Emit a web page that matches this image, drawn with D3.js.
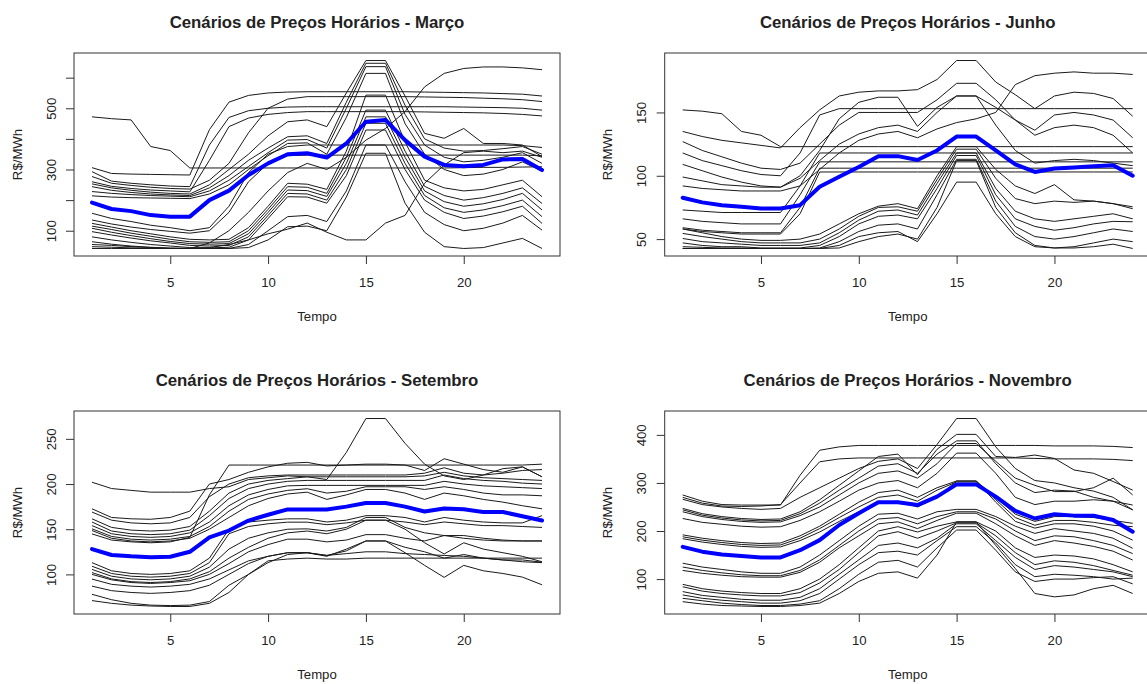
<!DOCTYPE html>
<html>
<head>
<meta charset="utf-8">
<script src="https://cdn.jsdelivr.net/npm/d3@7/dist/d3.min.js"></script>
<style>
  html, body { margin: 0; padding: 0; background: #fff; }
  svg { display: block; }
  text { font-family: "Liberation Sans", Arial, Helvetica, sans-serif; fill: #222; }
</style>
</head>
<body>
<svg id="chart" width="1147" height="684"></svg>
<script>
// Hours of the day
const horas = d3.range(1, 25);
const xTicks = [5, 10, 15, 20];

// ---- Março: price scenarios (R$/MWh) and their mean ----
const marcoCenarios = [
  [472,466,462,375,362,305,305,305,305,305,305,305,305,305,305,305,305,305,305,306,307,307,308,309],
  [306,287,285,284,283,282,430,520,542,550,553,554,554,554,554,554,554,553,552,551,550,548,546,540],
  [293,262,255,250,246,244,380,470,492,500,504,505,505,505,505,505,505,505,505,504,503,502,500,494],
  [277,255,248,242,238,236,265,320,420,500,530,538,538,538,538,538,538,537,536,535,533,531,528,522],
  [260,245,238,233,230,227,330,440,468,480,486,489,489,489,489,489,489,488,487,486,485,483,480,475],
  [253,240,232,226,222,220,250,300,350,410,456,462,440,550,656,656,540,418,402,434,385,385,380,342],
  [244,232,225,220,217,215,240,280,330,370,407,410,385,520,647,647,510,400,370,360,362,368,375,350],
  [228,222,218,215,213,211,230,265,310,355,396,398,370,500,636,636,480,380,340,325,330,340,355,320],
  [214,210,208,207,206,205,220,250,300,345,385,387,350,470,614,614,450,350,300,280,285,300,325,295],
  [157,140,130,118,110,100,110,180,290,350,375,380,380,380,380,380,380,380,380,380,380,380,378,372],
  [135,122,112,104,98,92,100,160,260,320,345,347,347,347,347,347,347,347,347,347,347,347,347,345],
  [124,112,100,90,80,72,70,72,110,180,255,252,235,360,543,543,390,265,240,230,235,250,265,211],
  [115,104,92,82,72,64,62,64,100,170,244,242,222,340,494,494,360,245,215,200,208,222,240,189],
  [108,95,84,74,65,58,56,58,90,160,233,231,212,320,472,472,340,230,195,180,188,202,222,168],
  [97,86,76,67,60,52,50,52,80,150,222,220,200,300,451,451,320,215,175,160,168,182,200,146],
  [80,70,62,55,50,45,44,46,70,140,211,210,190,280,429,429,300,200,160,140,148,162,180,124],
  [64,56,50,46,43,42,42,42,55,100,146,150,130,230,380,380,260,160,120,100,108,125,150,102],
  [42,42,42,42,42,42,42,42,45,70,113,115,100,210,353,353,190,95,48,42,45,60,75,42],
  [55,52,48,45,43,42,45,55,70,90,105,125,95,70,70,125,150,255,315,355,360,355,360,340],
  [48,46,44,43,42,42,60,100,160,230,290,320,300,340,396,434,489,570,614,630,635,635,632,626]
];
const marcoMedia = [192,171,164,151,146,146,200,231,282,320,350,353,339,385,456,462,396,342,315,311,315,333,334,298];
const marcoYTicks = [100, 200, 300, 400, 500, 600];
const marcoYLabels = ["100", "", "300", "", "500", ""];

// ---- Junho ----
const junhoCenarios = [
  [152,151,149,135,132,123,123,123,123,123,123,123,123,123,123,123,123,123,123,123,123,123,123,123],
  [135,131,128,126,124,122,138,152,163,166,167,167,168,176,191,191,174,164,153,163,166,165,161,147],
  [127,120,115,110,106,105,110,125,140,150,150,150,150,160,173,173,160,144,136,148,150,148,144,130],
  [118,112,108,104,101,100,118,148,153,153,153,153,153,153,153,153,153,153,153,153,153,153,153,153],
  [109,104,99,95,92,91,100,120,145,158,162,162,139,154,163,163,154,144,132,138,140,138,132,118],
  [92,90,89,88,88,88,92,105,118,128,133,135,130,137,142,145,150,172,179,181,182,181,181,180],
  [73,72,71,71,71,71,92,118,118,118,118,118,118,118,118,118,118,118,118,118,118,118,118,118],
  [66,64,63,62,62,62,85,111,111,111,111,111,111,111,111,111,111,111,111,111,111,111,111,111],
  [59,57,56,55,55,55,75,106,106,106,106,106,106,106,106,106,106,106,106,106,106,106,106,106],
  [58,56,55,54,54,54,70,103,103,103,103,103,103,103,103,103,103,103,103,103,103,103,103,103],
  [58,55,52,50,49,49,50,54,62,70,76,78,74,100,123,123,105,92,86,93,81,80,78,75.5],
  [54.5,52,50,48,47,47,47,50,58,68,75,75.5,72,97,121,121,98,82,78,80,79,80,78,74],
  [50.5,48,47,46,45,45,45,47,55,65,72,73,69,94,118,118,90,72,66,64,66,68,70,66],
  [47,45,44,44,43,43,43,45,52,62,68,69,66,90,116,116,85,66,60,57,59,62,64,63.7],
  [44,43.5,43,43,42.6,42.6,42.6,43,48,56,61,62,58,85,113,113,80,60,52,50,52,55,58,56],
  [42.6,42.6,42.6,42.6,42.6,42.6,42.6,42.6,45,52,55,56,48,70,95,95,70,52,44,43,44,47,50,48],
  [42.6,42.6,42.6,42.6,42.6,42.6,42.6,42.6,43,48,52,54,50,75,112,112,75,55,45,43,43,44,46,42.6],
  [99,96,93,92,91,91,98,112,125,133,138,140,135,150,163,163,140,120,110,112,113,112,110,108]
];
const junhoMedia = [82.6,79,76.8,75.5,74.2,74.2,76.8,91.3,99.2,107,115.5,115.5,112.4,120,131,131,120,109,103,105.8,106.6,107.6,108.4,100];
const junhoYTicks = [50, 100, 150];
const junhoYLabels = ["50", "100", "150"];

// ---- Setembro ----
const setembroCenarios = [
  [202,195,193,191,191,191,195,197,205,207,209,208,205,235,272.5,272.5,245,222,209,205,210,217,219,208],
  [144.8,138,136,135,136,141,188,221,221,221,221,221,221,221,221,221,221,221,221,221,221,221,221,222],
  [172.6,163,161.5,161,163,170,200,205,213,219,223,224,220,221,222,222,221,215,228,222,216,213,219,208],
  [169,160,157,156,157,163,186,200,207,209,210,210,210,210,210,210,210,212,218,212,210,212,215,216],
  [161.5,152,149,148,149,153,170,190,200,204,206,208,208,208,208,208,208,209,213,209,207,206,205,204],
  [158,148,145,144,145,149,165,184,195,200,203,204,204,204,204,204,204,204,210,206,204,203,201,200],
  [154,145,142,141,142,146,158,176,188,194,198,198.5,198.5,198.5,198.5,198.5,198.5,198.5,203,200,198,197,196,195],
  [150.4,142,139,138,139,142,153,170,183,189,193,194.8,190,192,197,197,197,194,197,194,190,188,188,187],
  [148.5,140,137,136,137,140,150,163,176,184,189,191,183,188,194,194,190,183,190,187,183,180,176,172.6],
  [113,104,101,100,101,104,118,150,158,160,161.5,161.5,158,160,165,165,163,158,163,160,158,157,157,165],
  [109,101,98,97,98,101,113,145,153,156,157.8,157.8,155,157,160,160,158,155,158,156,154,154,153,152],
  [105.5,98,95,94,95,98,108,128,140,146,150,150.4,148,152,163,163,152,146,143,143,140,138,137,137],
  [102,95,92,91,92,95,103,118,130,140,146,148,145,150,160,160,150,135,122.6,135,128,124,120,114],
  [100,94,91,90,91,93,100,112,125,133,139,139,136,138,144,144,140,137,143,140,138,137,137,137],
  [94.8,89,87,86,87,89,95,105,115,120,124,124,121,126,137,137,124,110,96.7,110,104,101,97,88.5],
  [87,82,80,79,80,82,88,100,112,120,124,124,120,128,137,137,130,125,118,122,118,116,116,113.5],
  [78,72,68,66,65.5,66,70,88,100,113,122,124,121,123,125,125,123,122,121,120,118,116,114,113],
  [71,68,66,65,64.5,64.5,68,80,100,115,117,118,117,117,118,118,118,118,118,118,118,118,118,118]
];
const setembroMedia = [128,121.5,120,119,119.6,125,141,148.5,159.6,166,171.9,171.9,171.9,175,179,179,175,169.6,173,172,169,169,164.4,159.6];
const setembroYTicks = [100, 150, 200, 250];
const setembroYLabels = ["100", "150", "200", "250"];

// ---- Novembro ----
const novembroCenarios = [
  [275,262,255,254,254,254,316,368,375,378,378,378,378,378,378,378,378,378,378,377,377,377,376,373.6],
  [270,258,252,251,252,255,300,344,350,352,352,352,352,352,352,352,352,352,351,350,350,350,349,346.5],
  [266,255,250,247,245,247,270,290,310,330,345,350,330,380,434,434,375,330,305,300,290,283,270,244],
  [247,236,230,226,224,225,240,265,295,325,355,360,317,370,401,401,355,353,358,351,327,320,303,285],
  [244,233,227,223,221,222,236,258,285,310,335,340,320,360,387.5,387.5,340,300,280,285,283,270,262,254],
  [240,230,224,220,218,219,232,250,275,300,320,325,310,340,382,382,345,310,295,282,282,290,310,275],
  [226,218,214,210,208,209,222,240,262,285,300,305,290,320,362,362,320,270,255,262,262,265,262,244],
  [192,185,180,176,174,175,190,210,235,260,280,285,270,290,304,304,270,235,220,230,230,228,222,216],
  [188,181,176,172,170,171,185,205,228,250,270,275,262,285,302,302,265,228,212,222,222,218,212,209],
  [184,177,172,168,166,167,180,198,220,240,258,262,250,270,304,304,260,220,206,215,215,210,200,181],
  [133,125,120,115,112,112,125,150,180,210,235,237,225,240,245,245,230,210,195,205,200,195,185,164],
  [125,118,113,109,107,107,118,140,170,200,225,228,215,230,240,240,225,200,180,190,188,180,170,153],
  [118,112,108,105,104,104,114,135,165,190,215,219,205,222,237,237,215,190,170,180,175,168,158,139.6],
  [89,80,75,72,70,70,80,100,130,165,200,209,198,210,219,219,200,165,145,150,148,142,130,115],
  [84,75,70,67,65,65,72,92,120,155,190,198.6,185,200,217,217,190,155,130,138,135,128,118,108],
  [74,66,62,58,56,56,62,80,110,140,170,175,165,185,215,215,180,145,120,128,125,120,115,105],
  [67,60,56,53,50,50,55,70,100,130,155,158,150,180,209,209,175,130,105,110,108,105,100,102],
  [60,55,50,47,45,45,48,55,80,110,135,139,125,165,202,202,160,115,95,100,100,103,105,90],
  [53,48,45,44,43,43,45,50,70,95,112,115,102,150,219,219,170,122,70,63,67,80,87,70]
];
const novembroMedia = [167,157,151,148,145,145,160,181,212.5,237,260,260,254,271.5,297,297,271.5,241.7,226,235,232,232,223,198.6];
const novembroYTicks = [100, 200, 300, 400];
const novembroYLabels = ["100", "200", "300", "400"];

// Panel definitions assembled from the arrays above
const paineis = [
  { titulo: "Cenários de Preços Horários - Março",    cen: marcoCenarios,    media: marcoMedia,    yt: marcoYTicks,    yl: marcoYLabels,    left: 74,    top: 53 },
  { titulo: "Cenários de Preços Horários - Junho",    cen: junhoCenarios,    media: junhoMedia,    yt: junhoYTicks,    yl: junhoYLabels,    left: 664.7, top: 53 },
  { titulo: "Cenários de Preços Horários - Setembro", cen: setembroCenarios, media: setembroMedia, yt: setembroYTicks, yl: setembroYLabels, left: 74,    top: 411 },
  { titulo: "Cenários de Preços Horários - Novembro", cen: novembroCenarios, media: novembroMedia, yt: novembroYTicks, yl: novembroYLabels, left: 664.7, top: 411 }
];

const W = 486, H = 203;
const FONT = '"Liberation Sans", Arial, sans-serif';
const svg = d3.select("#chart");
svg.append("rect").attr("width", 1147).attr("height", 684).attr("fill", "#fff");

paineis.forEach((p, i) => {
  const g = svg.append("g").attr("transform", `translate(${p.left},${p.top})`);

  // R-style 4% padding on both axes
  const xs = d3.scaleLinear().domain([1 - 0.04 * 23, 24 + 0.04 * 23]).range([0, W]);
  const all = p.cen.flat().concat(p.media);
  const [lo, hi] = d3.extent(all);
  const pad = (hi - lo) * 0.04;
  const ys = d3.scaleLinear().domain([lo - pad, hi + pad]).range([H, 0]);

  const clipId = "clip" + i;
  g.append("clipPath").attr("id", clipId)
    .append("rect").attr("width", W).attr("height", H);

  const line = d3.line().x((d, k) => xs(horas[k])).y(d => ys(d));

  const plot = g.append("g").attr("clip-path", `url(#${clipId})`);
  plot.selectAll("path.cenario").data(p.cen).join("path")
    .attr("class", "cenario")
    .attr("d", line)
    .attr("fill", "none")
    .attr("stroke", "#1a1a1a")
    .attr("stroke-width", 1)
    .attr("stroke-linejoin", "round");

  plot.append("path")
    .datum(p.media)
    .attr("d", line)
    .attr("fill", "none")
    .attr("stroke", "#0000ff")
    .attr("stroke-width", 4)
    .attr("stroke-linejoin", "round")
    .attr("stroke-linecap", "round");

  // plot frame
  g.append("rect").attr("width", W).attr("height", H)
    .attr("fill", "none").attr("stroke", "#333").attr("stroke-width", 1);

  // x axis
  const xAxis = d3.axisBottom(xs).tickValues(xTicks).tickSize(8).tickPadding(14).tickFormat(d3.format("d"));
  const xa = g.append("g").attr("transform", `translate(0,${H})`).call(xAxis);
  xa.select(".domain").remove();
  xa.selectAll(".tick line").attr("stroke", "#333");
  xa.selectAll(".tick text").attr("font-size", "13.2px").attr("fill", "#222")
    .attr("font-family", FONT);

  // y axis (labels rotated, parallel to the axis)
  const yAxis = d3.axisLeft(ys).tickValues(p.yt).tickSize(8).tickFormat((d, k) => p.yl[k]);
  const ya = g.append("g").call(yAxis);
  ya.select(".domain").remove();
  ya.selectAll(".tick line").attr("stroke", "#333");
  ya.selectAll(".tick text")
    .attr("font-size", "13.2px").attr("fill", "#222")
    .attr("font-family", FONT)
    .attr("x", null)
    .attr("text-anchor", "middle")
    .attr("transform", "translate(-23,0) rotate(-90)")
    .attr("dy", "0.35em");

  // titles and axis names
  g.append("text").attr("x", W / 2).attr("y", -25)
    .attr("text-anchor", "middle").attr("font-size", "16.8px").attr("font-weight", "bold")
    .text(p.titulo);
  g.append("text").attr("x", W / 2).attr("y", H + 65)
    .attr("text-anchor", "middle").attr("font-size", "13.2px")
    .text("Tempo");
  g.append("text")
    .attr("transform", `translate(-57,${H / 2}) rotate(-90)`)
    .attr("text-anchor", "middle").attr("dy", "0.35em").attr("font-size", "13.2px")
    .text("R$/MWh");
});
</script>
</body>
</html>
